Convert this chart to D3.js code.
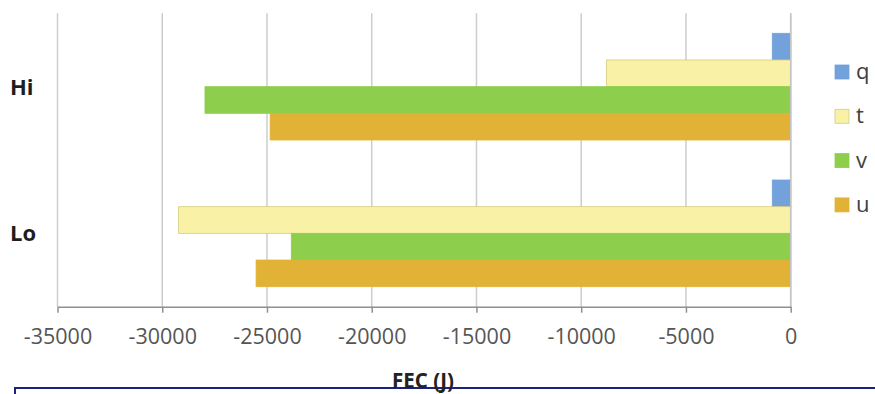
<!DOCTYPE html>
<html>
<head>
<meta charset="utf-8">
<script src="https://cdn.jsdelivr.net/npm/d3@7"></script>
<style>
  html, body { margin: 0; padding: 0; background: #fff; }
  svg { display: block; }
</style>
</head>
<body>
<svg id="chart" width="875" height="394"></svg>
<script>
// Categories (top to bottom) and series (top to bottom within each group)
const categories = ["Hi", "Lo"];
const seriesNames = ["q", "t", "v", "u"];
const seriesColors = ["#72a1dc", "#f9f1a6", "#8dcf4d", "#e1b236"];
const seriesStroke = ["#72a1dc", "#d6cc82", "#8dcf4d", "#e1b236"];

// FEC (J) per category, one array per series
const qValues = [-880, -880];
const tValues = [-8800, -29230];
const vValues = [-27960, -23840];
const uValues = [-24850, -25520];
const seriesValues = [qValues, tValues, vValues, uValues];

const xTicks = [-35000, -30000, -25000, -20000, -15000, -10000, -5000, 0];
const xTitle = "FEC (J)";

const svg = d3.select("#chart");
const font = "'Open Sans', 'Liberation Sans', sans-serif";

const plot = { left: 57.5, right: 790.7, top: 13.3, bottom: 306.7 };

const x = d3.scaleLinear().domain([-35000, 0]).range([plot.left, plot.right]);
const y = d3.scaleBand().domain(categories)
  .range([plot.top, plot.bottom])
  .paddingInner(1.5 / 5.5)
  .paddingOuter(0.75 / 5.5);
const ySeries = d3.scaleBand().domain(seriesNames).range([0, y.bandwidth()]);

// Vertical gridlines
svg.append("g")
  .selectAll("line")
  .data(xTicks)
  .join("line")
  .attr("x1", d => x(d)).attr("x2", d => x(d))
  .attr("y1", plot.top).attr("y2", plot.bottom)
  .attr("stroke", "#cdcdcd")
  .attr("stroke-width", 1.5);

// Bars
const groups = svg.append("g")
  .selectAll("g")
  .data(categories)
  .join("g")
  .attr("transform", d => `translate(0,${y(d)})`);

groups.selectAll("rect")
  .data((c, ci) => seriesNames.map((s, si) => ({ s, si, v: seriesValues[si][ci] })))
  .join("rect")
  .attr("x", d => x(Math.min(0, d.v)))
  .attr("width", d => Math.abs(x(d.v) - x(0)))
  .attr("y", d => ySeries(d.s))
  .attr("height", ySeries.bandwidth())
  .attr("fill", d => seriesColors[d.si])
  .attr("stroke", d => seriesStroke[d.si])
  .attr("stroke-width", 0.8);

// Zero line on top of bars
svg.append("line")
  .attr("x1", x(0)).attr("x2", x(0))
  .attr("y1", plot.top).attr("y2", plot.bottom)
  .attr("stroke", "#c4c4c4")
  .attr("stroke-width", 1.5);

// Bottom axis
const xAxis = d3.axisBottom(x)
  .tickValues(xTicks)
  .tickSize(6)
  .tickSizeOuter(0)
  .tickFormat(d3.format("d"));

const gx = svg.append("g")
  .attr("transform", `translate(0,${plot.bottom})`)
  .call(xAxis);
gx.select(".domain").attr("stroke", "#8f8f8f").attr("stroke-width", 1.5);
gx.selectAll(".tick line").attr("stroke", "#8f8f8f").attr("stroke-width", 1.5);
gx.selectAll(".tick text")
  .attr("y", 22)
  .attr("dy", "0.71em")
  .attr("font-family", font)
  .attr("font-size", 21.5)
  .attr("fill", "#555");
gx.selectAll(".tick text").text(d => d3.format("d")(d).replace("−", "-"));

// Category labels
svg.append("g")
  .selectAll("text")
  .data(categories)
  .join("text")
  .attr("x", 10)
  .attr("y", d => y(d) + y.bandwidth() / 2)
  .attr("dy", "0.36em")
  .attr("font-family", font)
  .attr("font-weight", "bold")
  .attr("font-size", 22)
  .attr("fill", "#1e1e1e")
  .text(d => d);

// Frame below the chart
svg.append("rect")
  .attr("x", 15).attr("y", 388)
  .attr("width", 900).attr("height", 30)
  .attr("fill", "#fff")
  .attr("stroke", "#1c2181")
  .attr("stroke-width", 2);

// Axis title
svg.append("text")
  .attr("x", 423)
  .attr("y", 388)
  .attr("text-anchor", "middle")
  .attr("font-family", font)
  .attr("font-weight", "bold")
  .attr("font-size", 20.5)
  .attr("fill", "#222")
  .text(xTitle);

// Legend
const legend = svg.append("g")
  .selectAll("g")
  .data(seriesNames)
  .join("g")
  .attr("transform", (d, i) => `translate(835,${72 + i * 44.3})`);

legend.append("rect")
  .attr("x", 0).attr("y", -7)
  .attr("width", 14).attr("height", 14)
  .attr("fill", (d, i) => seriesColors[i])
  .attr("stroke", (d, i) => seriesStroke[i])
  .attr("stroke-width", 0.8);

legend.append("text")
  .attr("x", 21)
  .attr("y", 0)
  .attr("dy", "0.32em")
  .attr("font-family", font)
  .attr("font-size", 22)
  .attr("fill", "#404040")
  .text(d => d);
</script>
</body>
</html>
